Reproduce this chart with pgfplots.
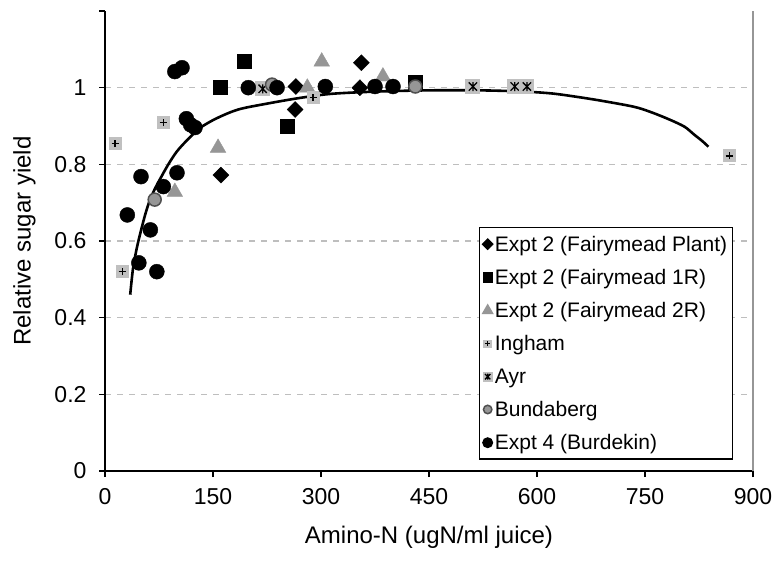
\documentclass[border=0pt]{standalone}
\usepackage{fontspec}
\setmainfont{Liberation Sans}
\usepackage{pgfplots}
\pgfplotsset{compat=1.18}
\definecolor{ltgrey}{HTML}{C0C0C0}
\definecolor{mdgrey}{HTML}{969696}
\definecolor{dkgrey}{HTML}{505050}
\definecolor{gridgrey}{HTML}{BEBEBE}

% grey box with a black plus (Ingham)
\pgfdeclareplotmark{sqplus}{%
  \pgfpathrectangle{\pgfqpoint{-\pgfplotmarksize}{-\pgfplotmarksize}}{\pgfqpoint{2\pgfplotmarksize}{2\pgfplotmarksize}}%
  \pgfsetfillcolor{ltgrey}\pgfusepathqfill
  \pgfpathmoveto{\pgfqpoint{-.55\pgfplotmarksize}{0pt}}\pgfpathlineto{\pgfqpoint{.55\pgfplotmarksize}{0pt}}%
  \pgfpathmoveto{\pgfqpoint{0pt}{-.55\pgfplotmarksize}}\pgfpathlineto{\pgfqpoint{0pt}{.55\pgfplotmarksize}}%
  \pgfusepathqstroke}
% grey box with a black star (Ayr)
\pgfdeclareplotmark{sqstar}{%
  \pgfpathrectangle{\pgfqpoint{-\pgfplotmarksize}{-\pgfplotmarksize}}{\pgfqpoint{2\pgfplotmarksize}{2\pgfplotmarksize}}%
  \pgfsetfillcolor{ltgrey}\pgfusepathqfill
  \pgfpathmoveto{\pgfqpoint{-.55\pgfplotmarksize}{-.55\pgfplotmarksize}}\pgfpathlineto{\pgfqpoint{.55\pgfplotmarksize}{.55\pgfplotmarksize}}%
  \pgfpathmoveto{\pgfqpoint{-.55\pgfplotmarksize}{.55\pgfplotmarksize}}\pgfpathlineto{\pgfqpoint{.55\pgfplotmarksize}{-.55\pgfplotmarksize}}%
  \pgfpathmoveto{\pgfqpoint{0pt}{-.6\pgfplotmarksize}}\pgfpathlineto{\pgfqpoint{0pt}{.6\pgfplotmarksize}}%
  \pgfusepathqstroke}

\pgfplotsset{
  mk/.style={only marks,
    legend image code/.code={\draw[##1, every mark/.append style={scale=0.65}] plot coordinates {(4pt,0pt)};}},
}

\begin{document}
\begin{tikzpicture}
\begin{axis}[
  scale only axis, width=648pt, height=460pt,
  xmin=0, xmax=900, ymin=0, ymax=1.2,
  axis x line*=bottom, axis y line*=left,
  axis line style={black, line width=1.3pt},
  xtick={0,150,...,900},
  ytick={0,0.2,0.4,0.6,0.8,1},
  extra y ticks={1.2}, extra y tick labels={}, extra y tick style={grid=none},
  ymajorgrids, major grid style={gridgrey, line width=1.1pt, dash pattern=on 6pt off 6pt},
  tick align=outside, major tick length=6pt,
  tick style={black, line width=1.2pt},
  tick label style={font=\fontsize{23}{27}\selectfont},
  /pgf/number format/assume math mode=true,
  yticklabel style={xshift=-9pt},
  xticklabel style={yshift=-8pt},
  label style={font=\fontsize{24}{28}\selectfont},
  xlabel={Amino-N (ugN/ml juice)},
  xlabel style={yshift=-14pt},
  ylabel={Relative sugar yield},
  ylabel style={yshift=0pt},
  clip=false,
  legend cell align=left,
  legend style={at={(rel axis cs:0.577,0.530)}, anchor=north west,
    draw=black, line width=1.2pt, fill=white,
    font=\fontsize{21}{25}\selectfont, row sep=12.5pt,
    inner xsep=3pt, inner ysep=6pt},
]
\addplot[mk, mark=diamond*, mark size=8pt, mark options={xscale=1.33, black, fill=black}]
  coordinates {(161,0.772) (265,1.003) (264,0.943) (356,1.065) (354,1.000)};
\addlegendentry{Expt 2 (Fairymead Plant)}
\addplot[mk, mark=square*, mark size=7pt, mark options={black, fill=black}]
  coordinates {(193,1.068) (160,1.000) (253,0.900) (431,1.013)};
\addlegendentry{Expt 2 (Fairymead 1R)}
\addplot[mk, mark=triangle*, mark size=9pt, mark options={mdgrey, fill=mdgrey}]
  coordinates {(157,0.843) (97,0.728) (301,1.068) (281,1.000) (386,1.029)};
\addlegendentry{Expt 2 (Fairymead 2R)}
\addplot[mk, mark=sqplus, mark size=6.5pt, mark options={black, line width=1.3pt}]
  coordinates {(14,0.854) (81,0.909) (24,0.520) (289,0.974) (867,0.822)};
\addlegendentry{Ingham}
\addplot[mk, mark=sqstar, mark size=7.5pt, mark options={black, line width=1.3pt}]
  coordinates {(219,0.997) (511,1.003) (569,1.003) (586,1.003)};
\addlegendentry{Ayr}
\addplot[mk, mark=*, mark size=6.5pt, mark options={draw=dkgrey, fill=mdgrey, line width=1.5pt}]
  coordinates {(69,0.708) (232,1.008) (431,1.003)};
\addlegendentry{Bundaberg}
\addplot[mk, mark=*, mark size=7.5pt, mark options={black, fill=black}]
  coordinates {(97,1.042) (107,1.052) (113,0.919) (119,0.903) (125,0.896)
    (50,0.768) (100,0.778) (81,0.742) (31,0.668) (63,0.629) (47,0.543)
    (72,0.520) (199,1.000) (239,1.000) (306,1.003) (375,1.003) (400,1.003)};
\addlegendentry{Expt 4 (Burdekin)}
% fitted curve
\addplot[black, line width=2.6pt, smooth, forget plot] coordinates {
  (35,0.46) (39,0.53) (44,0.58) (49,0.62) (56,0.67) (62,0.705) (69,0.735)
  (76,0.76) (88,0.80) (100,0.834) (115,0.865) (132,0.895) (155,0.92)
  (185,0.943) (224,0.958) (270,0.973) (315,0.984) (380,0.99) (450,0.993)
  (520,0.993) (580,0.99) (620,0.985) (652,0.977) (689,0.966) (735,0.950)
  (760,0.935) (785,0.916) (805,0.898) (818,0.878) (830,0.860) (838,0.846)};
\draw[mdgrey, line width=1.3pt] (rel axis cs:1,0) -- (rel axis cs:1,1);
\coordinate (ll) at (rel axis cs:0,0);
\coordinate (ur) at (rel axis cs:1,1);
\end{axis}
\pgfresetboundingbox
\useasboundingbox ([shift={(-105pt,-94pt)}]ll) rectangle ([shift={(22pt,11pt)}]ur);
\end{tikzpicture}
\end{document}
